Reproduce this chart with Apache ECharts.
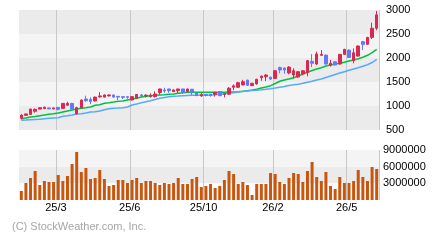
<!DOCTYPE html>
<html><head><meta charset="utf-8">
<script src="https://cdn.jsdelivr.net/npm/echarts/dist/echarts.min.js"></script>
<style>html,body{margin:0;padding:0;background:#fff}#c{width:440px;height:240px}</style>
</head><body><div id="c"></div>
<script>
// tick label positions (bar index) and texts
const tickIndex = [8, 24, 40, 55, 71];
const tickLabels = ['25/3', '25/6', '25/10', '26/2', '26/5'];
const priceTicks = [500, 1000, 1500, 2000, 2500, 3000];
const volumeTicks = [3000000, 6000000, 9000000];

// weekly candles: [open, close, low, high]
const candles = [
  [745, 810, 720, 830], [805, 835, 795, 840], [825, 935, 815, 945], [890, 930, 860, 950],
  [935, 965, 930, 975], [945, 975, 935, 985], [960, 940, 935, 965], [940, 960, 930, 965],
  [970, 930, 910, 980], [950, 1055, 945, 1060], [1015, 1055, 1000, 1090], [1055, 935, 930, 1065],
  [840, 965, 820, 985], [960, 1125, 950, 1135], [1145, 1110, 1090, 1215], [1135, 1095, 1040, 1180],
  [1105, 1185, 1095, 1195], [1190, 1210, 1175, 1290], [1185, 1230, 1180, 1240], [1210, 1230, 1200, 1240],
  [1230, 1185, 1180, 1235], [1200, 1185, 1125, 1210], [1195, 1180, 1145, 1205], [1195, 1180, 1150, 1205],
  [1125, 1195, 1115, 1200], [1160, 1240, 1150, 1250], [1230, 1215, 1195, 1250], [1210, 1225, 1180, 1245],
  [1195, 1225, 1175, 1265], [1195, 1250, 1175, 1305], [1280, 1355, 1235, 1360], [1335, 1315, 1275, 1380],
  [1355, 1320, 1275, 1360], [1300, 1335, 1295, 1345], [1320, 1355, 1265, 1360], [1355, 1285, 1250, 1360],
  [1300, 1355, 1295, 1360], [1350, 1290, 1230, 1355], [1265, 1215, 1210, 1270], [1210, 1240, 1190, 1265],
  [1240, 1220, 1200, 1250], [1245, 1215, 1200, 1250], [1245, 1280, 1195, 1300], [1300, 1215, 1205, 1305],
  [1240, 1255, 1180, 1270], [1245, 1370, 1240, 1395], [1390, 1420, 1330, 1450], [1390, 1485, 1375, 1505],
  [1440, 1505, 1430, 1545], [1540, 1430, 1420, 1545], [1425, 1475, 1415, 1480], [1460, 1555, 1445, 1570],
  [1590, 1625, 1525, 1630], [1610, 1645, 1520, 1665], [1600, 1560, 1540, 1610], [1575, 1735, 1565, 1745],
  [1800, 1750, 1680, 1820], [1790, 1750, 1675, 1805], [1690, 1810, 1660, 1830], [1645, 1735, 1575, 1785],
  [1605, 1715, 1590, 1725], [1670, 1735, 1640, 1745], [1700, 1945, 1620, 1955], [1930, 1890, 1810, 2080],
  [1875, 2085, 1855, 2130], [2055, 2075, 2045, 2165], [2060, 1875, 1865, 2070], [1850, 1890, 1820, 1960],
  [1920, 1855, 1845, 1935], [1875, 2075, 1865, 2085], [2075, 2180, 2065, 2190], [2165, 2010, 2000, 2175],
  [1945, 2110, 1890, 2200], [2040, 2250, 2030, 2260], [2340, 2285, 2165, 2355], [2285, 2430, 2275, 2440],
  [2430, 2620, 2395, 2735], [2620, 2900, 2580, 2980]
];

// short moving average (green)
const maShort = [
  735, 750, 771, 781, 798, 812, 827, 840, 854, 875, 896, 917, 937, 952, 965, 979,
  1015, 1027, 1056, 1069, 1083, 1098, 1104, 1125, 1146, 1160, 1187, 1202, 1215, 1223,
  1229, 1235, 1244, 1250, 1265, 1277, 1285, 1285, 1285, 1285, 1285, 1285, 1286, 1287,
  1288, 1292, 1292, 1298, 1306, 1319, 1333, 1348, 1375, 1396, 1423, 1469, 1515, 1542,
  1562, 1590, 1625, 1667, 1702, 1740, 1771, 1798, 1833, 1854, 1875, 1890, 1910, 1938,
  1958, 1985, 2015, 2056, 2110, 2180
];

// long moving average (light blue)
const maLong = [
  702, 708, 715, 719, 723, 735, 744, 750, 756, 785, 798, 812, 833, 840, 854, 875,
  881, 896, 923, 944, 952, 958, 965, 979, 1021, 1042, 1069, 1090, 1110, 1135,
  1160, 1177, 1192, 1202, 1208, 1215, 1219, 1223, 1223, 1223, 1225, 1229, 1235, 1244,
  1256, 1265, 1277, 1292, 1302, 1312, 1323, 1329, 1337, 1348, 1360, 1375, 1392, 1406,
  1427, 1442, 1454, 1473, 1494, 1515, 1542, 1562, 1594, 1625, 1656, 1687, 1712, 1744,
  1771, 1798, 1829, 1860, 1906, 1969
];

// weekly volume
const volume = [
  1620000, 3060000, 3960000, 5220000, 2700000, 3420000, 3240000, 3240000, 4500000, 3420000,
  4320000, 6480000, 8640000, 5040000, 5760000, 3780000, 3960000, 5400000, 3780000, 2520000,
  2700000, 3600000, 3600000, 3060000, 3600000, 3960000, 3060000, 3420000, 3420000, 3060000,
  2700000, 3060000, 2880000, 3060000, 3960000, 2880000, 2880000, 3780000, 4140000, 2340000,
  2520000, 2880000, 2160000, 2520000, 3600000, 5220000, 4680000, 2880000, 3240000, 2700000,
  900000, 2880000, 2880000, 2880000, 4860000, 4680000, 3240000, 2880000, 3960000, 4860000,
  4680000, 3240000, 5220000, 6840000, 4140000, 3420000, 5040000, 2520000, 1980000, 4140000,
  3060000, 3060000, 3420000, 5400000, 4140000, 3420000, 5940000, 5580000
];

const categories = candles.map((_, i) => String(i));
const labelAt = {};
tickIndex.forEach((k, j) => { labelAt[k] = tickLabels[j]; });
const isTick = (idx) => labelAt[idx] !== undefined;

const FONT = 'Liberation Sans, Arial, sans-serif';
const chart = echarts.init(document.getElementById('c'), null, { renderer: 'canvas' });

chart.setOption({
  animation: false,
  backgroundColor: '#ffffff',
  grid: [
    { left: 19, top: 10, width: 360, height: 120, outerBoundsMode: 'none', containLabel: false },
    { left: 19, top: 150, width: 360, height: 50, outerBoundsMode: 'none', containLabel: false }
  ],
  xAxis: [
    {
      type: 'category', gridIndex: 0, data: categories, boundaryGap: true,
      axisLine: { show: false }, axisTick: { show: false }, axisLabel: { show: false },
      splitLine: { show: true, interval: (i) => isTick(i), lineStyle: { color: '#c8c8c8', width: 1 } }
    },
    {
      type: 'category', gridIndex: 1, data: categories, boundaryGap: true,
      axisLine: { show: false }, axisTick: { show: false },
      axisLabel: {
        show: true, interval: (i) => isTick(i), formatter: (v, i) => labelAt[i] || '',
        color: '#000', fontFamily: FONT, fontSize: 11, margin: 2, padding: [0, 4.6, 0, 0]
      },
      splitLine: { show: true, interval: (i) => isTick(i), lineStyle: { color: '#c8c8c8', width: 1 } }
    }
  ],
  yAxis: [
    {
      type: 'value', gridIndex: 0, position: 'right',
      min: priceTicks[0], max: priceTicks[priceTicks.length - 1], interval: 500,
      axisLine: { show: false }, axisTick: { show: false }, splitLine: { show: false },
      splitArea: { show: true, areaStyle: { color: ['#ebebeb', '#f4f4f4'] } },
      axisLabel: {
        color: '#000', fontFamily: FONT, fontSize: 11, margin: 7, align: 'left',
        formatter: (v) => (priceTicks.indexOf(v) >= 0 ? String(v) : '')
      }
    },
    {
      type: 'value', gridIndex: 1, position: 'right',
      min: 0, max: volumeTicks[volumeTicks.length - 1], interval: 3000000,
      axisLine: { show: false }, axisTick: { show: false }, splitLine: { show: false },
      splitArea: { show: true, areaStyle: { color: ['#ffffff', '#ebebeb', '#f4f4f4'] } },
      axisLabel: {
        color: '#000', fontFamily: FONT, fontSize: 11, margin: 4, align: 'left',
        formatter: (v) => (volumeTicks.indexOf(v) >= 0 ? String(v) : '')
      }
    }
  ],
  series: [
    {
      type: 'candlestick', xAxisIndex: 0, yAxisIndex: 0, data: candles, barWidth: 3,
      itemStyle: { color: '#dc2850', color0: '#6677ff', borderColor: '#dc2850', borderColor0: '#6677ff', borderWidth: 1 }
    },
    {
      type: 'line', xAxisIndex: 0, yAxisIndex: 0, data: maShort, symbol: 'none', z: 1,
      lineStyle: { color: '#00c040', width: 1.5 }
    },
    {
      type: 'line', xAxisIndex: 0, yAxisIndex: 0, data: maLong, symbol: 'none', z: 1,
      lineStyle: { color: '#55aaff', width: 1.5 }
    },
    {
      type: 'bar', xAxisIndex: 1, yAxisIndex: 1, data: volume, barWidth: 3,
      itemStyle: { color: '#c8560f' }
    }
  ],
  graphic: [
    { type: 'text', left: 12, top: 221, style: { text: '(C) StockWeather.com, Inc.', fill: '#a6a6a6', fontFamily: FONT, fontSize: 11 } }
  ]
});
</script>
</body></html>
